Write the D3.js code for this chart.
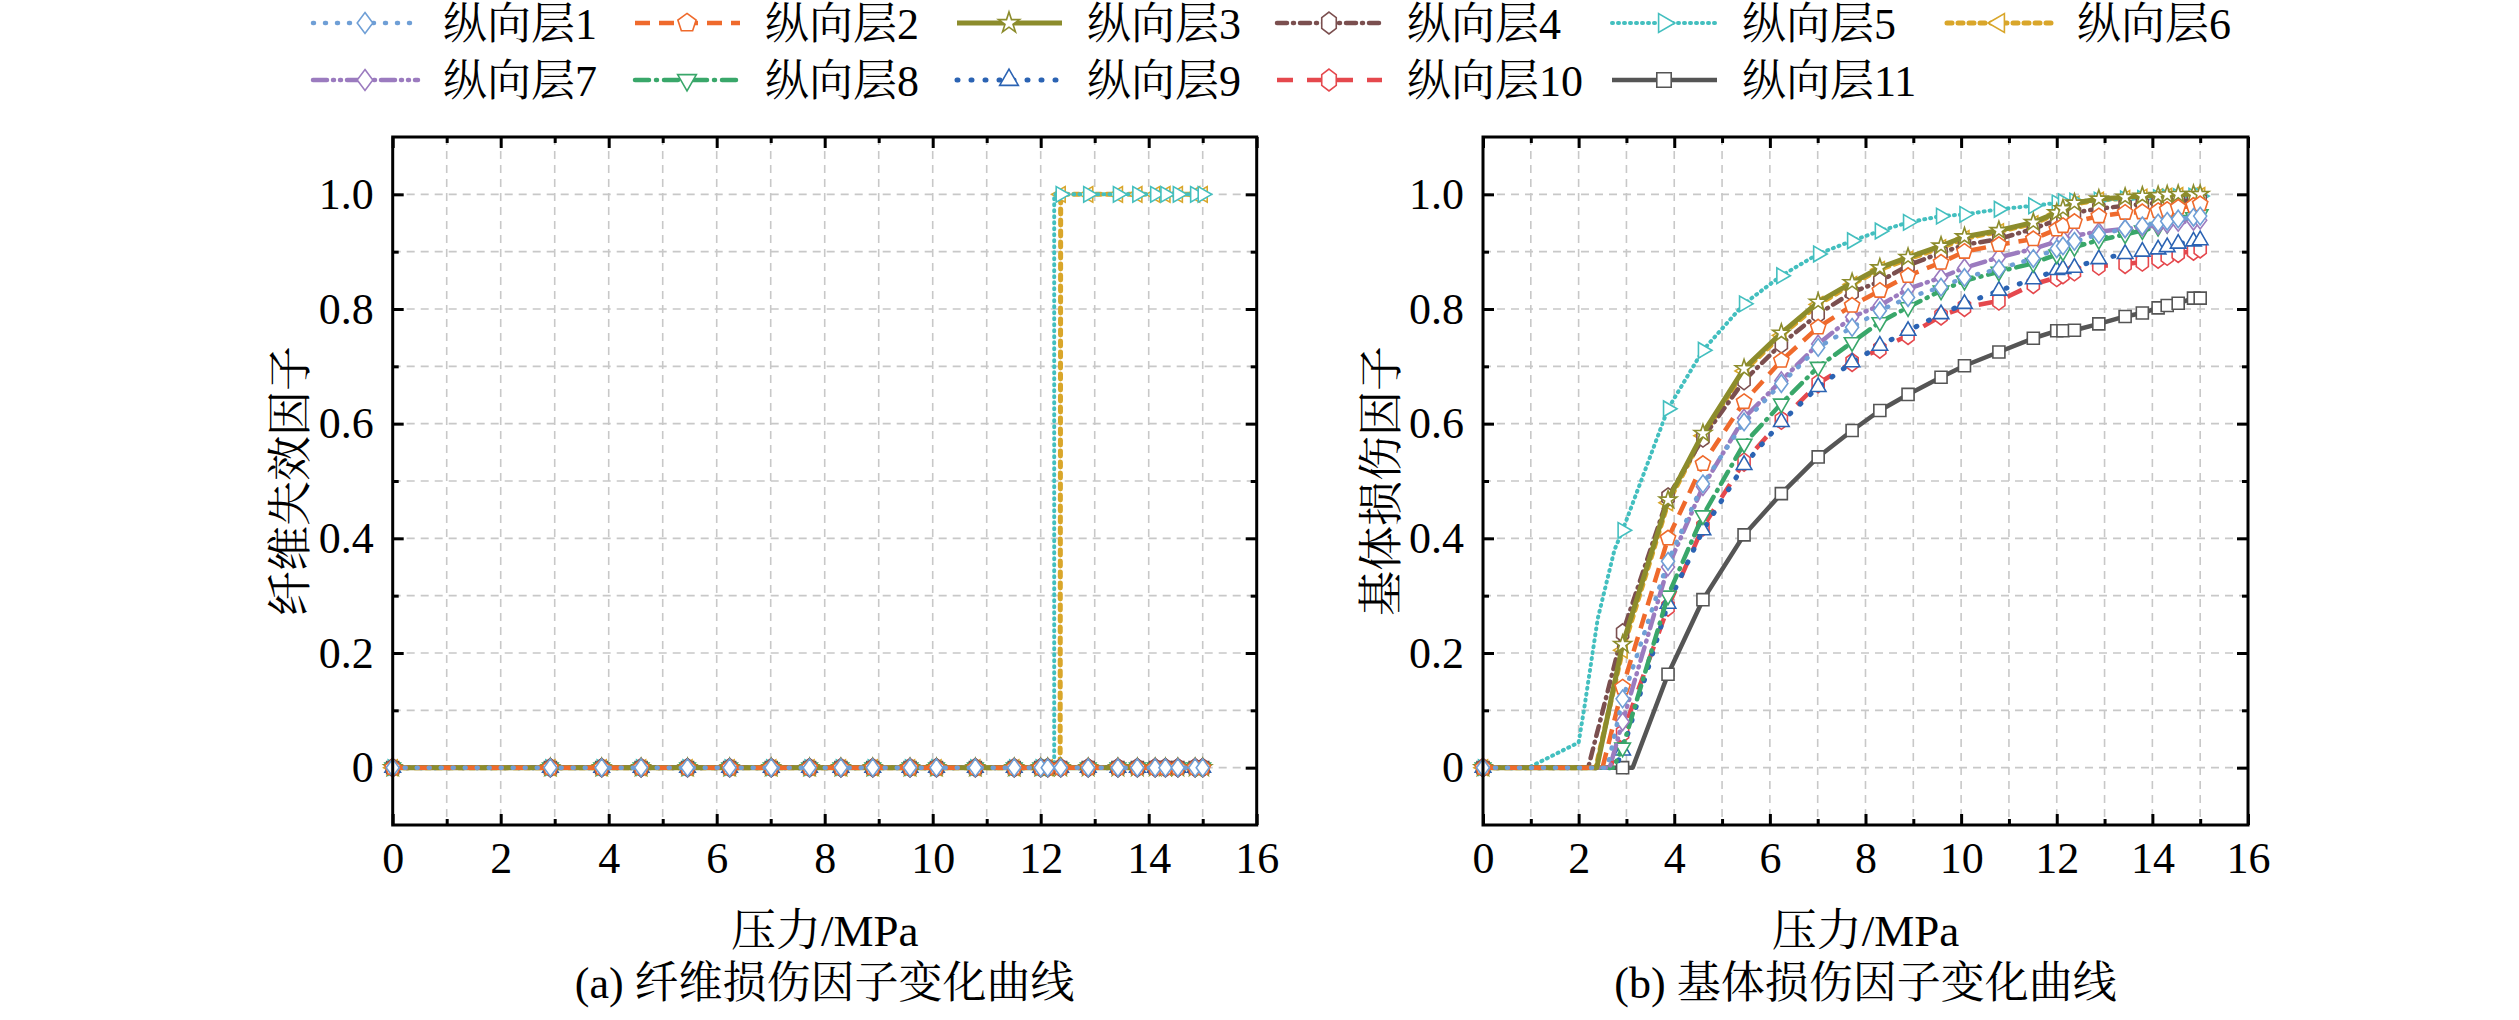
<!DOCTYPE html>
<html lang="zh">
<head>
<meta charset="UTF-8">
<title>损伤因子变化曲线</title>
<script src="https://cdn.jsdelivr.net/npm/d3@7"></script>
<style>
  body { margin: 0; background: #fff; }
  svg text { font-family: "Liberation Serif", "Times New Roman", "Noto Serif CJK SC", "Noto Sans CJK SC", serif; fill: #000; }
  .grid line { stroke: #c8c8c8; stroke-width: 1.6; stroke-dasharray: 8,6; }
</style>
</head>
<body>
<svg id="chart" width="2519" height="1020"></svg>
<script>
// load steps (MPa) where the solver saved output, markers sit on these
var steps = [0, 2.92, 3.87, 4.6, 5.46, 6.24, 7.01, 7.72, 8.3, 8.89, 9.58, 10.07, 10.79,
             11.51, 12.0, 12.13, 12.37, 12.88, 13.43, 13.79, 14.12, 14.31, 14.54, 14.86, 15.0];

var layerNames = ["纵向层1", "纵向层2", "纵向层3", "纵向层4", "纵向层5", "纵向层6",
                  "纵向层7", "纵向层8", "纵向层9", "纵向层10", "纵向层11"];

// (a) fibre failure factor
var fiberZero = [0, 0, 0, 0, 0, 0, 0, 0, 0, 0, 0, 0, 0, 0, 0, 0, 0, 0, 0, 0, 0, 0, 0, 0, 0];
var fiber5 = [0, 0, 0, 0, 0, 0, 0, 0, 0, 0, 0, 0, 0, 0, 0, 0, 1, 1, 1, 1, 1, 1, 1, 1, 1];
var fiber6 = [0, 0, 0, 0, 0, 0, 0, 0, 0, 0, 0, 0, 0, 0, 0, 0, 1, 1, 1, 1, 1, 1, 1, 1, 1];
var fiber5Extra = [[12.25, 0], [12.25, 1]];
var fiber6Extra = [[12.36, 0]];

// (b) matrix damage factor
var matrix1  = [0, 0.12, 0.36, 0.495, 0.603, 0.67, 0.733, 0.768, 0.797, 0.82, 0.838, 0.855, 0.87, 0.888, 0.905, 0.91, 0.918, 0.93, 0.94, 0.945, 0.95, 0.953, 0.957, 0.96, 0.962];
var matrix2  = [0, 0.14, 0.40, 0.53, 0.638, 0.71, 0.768, 0.806, 0.832, 0.858, 0.881, 0.9, 0.912, 0.922, 0.939, 0.945, 0.952, 0.962, 0.968, 0.969, 0.971, 0.973, 0.977, 0.98, 0.983];
var matrix3  = [0, 0.215, 0.467, 0.583, 0.696, 0.758, 0.812, 0.846, 0.872, 0.89, 0.91, 0.926, 0.937, 0.951, 0.968, 0.975, 0.985, 0.992, 0.995, 0.997, 0.998, 0.999, 1.0, 1.0, 1.0];
var matrix4  = [0, 0.235, 0.472, 0.575, 0.675, 0.739, 0.791, 0.829, 0.848, 0.876, 0.898, 0.912, 0.922, 0.94, 0.955, 0.96, 0.968, 0.975, 0.98, 0.983, 0.985, 0.987, 0.988, 0.99, 0.99];
var matrix5  = [0, 0.414, 0.626, 0.728, 0.809, 0.858, 0.896, 0.919, 0.936, 0.951, 0.962, 0.965, 0.974, 0.98, 0.985, 0.987, 0.988, 0.99, 0.992, 0.993, 0.994, 0.995, 0.996, 0.997, 0.997];
var matrix6  = [0, 0.205, 0.462, 0.579, 0.692, 0.754, 0.808, 0.843, 0.869, 0.887, 0.907, 0.923, 0.935, 0.949, 0.966, 0.973, 0.983, 0.99, 0.993, 0.995, 0.996, 0.997, 0.998, 0.998, 0.998];
var matrix7  = [0, 0.08, 0.35, 0.49, 0.61, 0.675, 0.739, 0.786, 0.806, 0.835, 0.855, 0.872, 0.89, 0.905, 0.918, 0.922, 0.928, 0.935, 0.94, 0.943, 0.946, 0.948, 0.951, 0.953, 0.955];
var matrix8  = [0, 0.035, 0.30, 0.44, 0.565, 0.635, 0.699, 0.742, 0.777, 0.803, 0.832, 0.849, 0.865, 0.88, 0.895, 0.9, 0.908, 0.92, 0.93, 0.937, 0.943, 0.948, 0.955, 0.96, 0.965];
var matrix9  = [0, 0.03, 0.286, 0.414, 0.528, 0.603, 0.664, 0.707, 0.736, 0.762, 0.791, 0.809, 0.832, 0.852, 0.868, 0.87, 0.872, 0.887, 0.896, 0.9, 0.904, 0.908, 0.914, 0.918, 0.92];
var matrix10 = [0, 0.06, 0.28, 0.42, 0.533, 0.606, 0.67, 0.707, 0.73, 0.754, 0.788, 0.803, 0.814, 0.843, 0.855, 0.86, 0.865, 0.875, 0.878, 0.882, 0.887, 0.892, 0.897, 0.901, 0.905];
var matrix11 = [0, 0, 0.163, 0.293, 0.406, 0.478, 0.542, 0.588, 0.623, 0.651, 0.681, 0.701, 0.725, 0.749, 0.762, 0.762, 0.763, 0.774, 0.787, 0.793, 0.802, 0.806, 0.81, 0.819, 0.819];

// intermediate solver points (line only, no marker): damage onset
var matrixExtra = [
  [[2.6, 0]], [[2.5, 0]], [[2.38, 0]], [[2.2, 0]],
  [[0.95, 0], [2.0, 0.044], [2.12, 0.105], [2.4, 0.26], [2.75, 0.38]],
  [[2.36, 0]], [[2.65, 0]], [[2.73, 0]], [[2.77, 0]], [[2.66, 0]], [[3.13, 0]]
];

var xMajor = [0, 2, 4, 6, 8, 10, 12, 14, 16];
var xMinor = [1, 3, 5, 7, 9, 11, 13, 15];
var yMajor = [0, 0.2, 0.4, 0.6, 0.8, 1.0];
var yMinor = [0.1, 0.3, 0.5, 0.7, 0.9];

var fiberValues = [fiberZero, fiberZero, fiberZero, fiberZero, fiber5, fiber6,
                   fiberZero, fiberZero, fiberZero, fiberZero, fiberZero];
var fiberExtra = [[], [], [], [], fiber5Extra, fiber6Extra, [], [], [], [], []];
var matrixValues = [matrix1, matrix2, matrix3, matrix4, matrix5, matrix6,
                    matrix7, matrix8, matrix9, matrix10, matrix11];

// ---- marker shapes ----
function poly(n, r, rot, sy) {
    var pts = d3.range(n).map(function(i) {
        var a = rot + i * 2 * Math.PI / n;
        return [(r * Math.cos(a)).toFixed(2), (r * Math.sin(a) * (sy || 1)).toFixed(2)];
    });
    return "M" + pts.join("L") + "Z";
}
var PI = Math.PI;
function markerPath(type, s) {
    switch (type) {
        case "diamond":  return poly(4, 6.5 * s, -PI / 2, 1.35);
        case "pentagon": return poly(5, 8 * s, -PI / 2);
        case "star":     return d3.symbol().type(d3.symbolStar).size(95 * s * s)();
        case "hexagon":  return poly(6, 7 * s, -PI / 2, 1.3);
        case "triRight": return poly(3, 9 * s, 0);
        case "triLeft":  return poly(3, 9 * s, PI);
        case "triDown":  return poly(3, 9 * s, PI / 2);
        case "triUp":    return poly(3, 9 * s, -PI / 2);
        case "square":   return poly(4, 8.5 * s, PI / 4);
    }
}

var styles = [
    { color: "#6f9fd6", dash: "1,11",            width: 4.5, cap: "round", marker: "diamond" },
    { color: "#ef6a2c", dash: "15,9",            width: 4.5, cap: "butt",  marker: "pentagon" },
    { color: "#8c8c2c", dash: null,              width: 5,   cap: "butt",  marker: "star" },
    { color: "#7b4f4f", dash: "10,6,1,6",        width: 4.5, cap: "round", marker: "hexagon" },
    { color: "#43bfbf", dash: "1,5",             width: 4,   cap: "round", marker: "triRight" },
    { color: "#d9a62a", dash: "5,6",             width: 5,   cap: "round", marker: "triLeft" },
    { color: "#9b7bbf", dash: "14,6,1,6,1,6",    width: 4.5, cap: "round", marker: "diamond" },
    { color: "#39a76a", dash: "14,7,1,7",        width: 4.5, cap: "round", marker: "triDown" },
    { color: "#2b63b3", dash: "1,13",            width: 5,   cap: "round", marker: "triUp" },
    { color: "#e5484d", dash: "16,14",           width: 4.5, cap: "butt",  marker: "hexagon" },
    { color: "#555555", dash: null,              width: 4.5, cap: "butt",  marker: "square" }
];

var svg = d3.select("#chart");
svg.append("rect").attr("width", 2519).attr("height", 1020).attr("fill", "#fff");

var top_ = 137, bottom_ = 825;

function drawPanel(left, right, values, extras, yTitle, titleX, caption) {
    var x = d3.scaleLinear().domain([0, 16]).range([left, right]);
    var y = d3.scaleLinear().domain([-0.1, 1.1]).range([bottom_, top_]);
    var g = svg.append("g");

    // grid
    var grid = g.append("g").attr("class", "grid");
    grid.selectAll(".gx").data(xMajor.concat(xMinor).filter(function(d) { return d > 0 && d < 16; }))
        .enter().append("line")
        .attr("x1", function(d) { return x(d); }).attr("x2", function(d) { return x(d); })
        .attr("y1", top_).attr("y2", bottom_);
    grid.selectAll(".gy").data(yMajor.concat(yMinor))
        .enter().append("line")
        .attr("y1", function(d) { return y(d); }).attr("y2", function(d) { return y(d); })
        .attr("x1", left).attr("x2", right);

    // axes with inward ticks
    function styleAxis(sel) {
        sel.select(".domain").remove();
        sel.selectAll(".tick line").attr("stroke", "#000").attr("stroke-width", 3);
        sel.selectAll("text").attr("font-size", 44)
            .attr("font-family", "'Liberation Serif', 'Times New Roman', serif");
    }
    var fmtY = function(d) { return d === 0 ? "0" : d3.format(".1f")(d); };

    g.append("g").attr("transform", "translate(0," + bottom_ + ")")
        .call(d3.axisBottom(x).tickValues(xMajor).tickSize(-11).tickPadding(17)).call(styleAxis);
    g.append("g").attr("transform", "translate(0," + bottom_ + ")")
        .call(d3.axisBottom(x).tickValues(xMinor).tickSize(-6).tickFormat("")).call(styleAxis);
    g.append("g").attr("transform", "translate(0," + top_ + ")")
        .call(d3.axisTop(x).tickValues(xMajor).tickSize(-11).tickFormat("")).call(styleAxis);
    g.append("g").attr("transform", "translate(0," + top_ + ")")
        .call(d3.axisTop(x).tickValues(xMinor).tickSize(-6).tickFormat("")).call(styleAxis);
    g.append("g").attr("transform", "translate(" + left + ",0)")
        .call(d3.axisLeft(y).tickValues(yMajor).tickSize(-11).tickPadding(19).tickFormat(fmtY)).call(styleAxis);
    g.append("g").attr("transform", "translate(" + left + ",0)")
        .call(d3.axisLeft(y).tickValues(yMinor).tickSize(-6).tickFormat("")).call(styleAxis);
    g.append("g").attr("transform", "translate(" + right + ",0)")
        .call(d3.axisRight(y).tickValues(yMajor).tickSize(-11).tickFormat("")).call(styleAxis);
    g.append("g").attr("transform", "translate(" + right + ",0)")
        .call(d3.axisRight(y).tickValues(yMinor).tickSize(-6).tickFormat("")).call(styleAxis);

    // series, last layer drawn first so layer 1 ends on top
    var line = d3.line().x(function(d) { return x(d[0]); }).y(function(d) { return y(d[1]); });
    d3.range(10, -1, -1).forEach(function(i) {
        var st = styles[i];
        var pts = steps.map(function(s, k) { return [s, values[i][k]]; });
        var all = pts.concat(extras[i]).sort(function(a, b) { return a[0] - b[0]; });
        g.append("path").datum(all)
            .attr("d", line)
            .attr("fill", "none")
            .attr("stroke", st.color)
            .attr("stroke-width", st.width)
            .attr("stroke-dasharray", st.dash)
            .attr("stroke-linecap", st.cap)
            .attr("stroke-linejoin", "round");
        g.append("g").selectAll("path").data(pts).enter().append("path")
            .attr("d", markerPath(st.marker, 1))
            .attr("transform", function(d) { return "translate(" + x(d[0]) + "," + y(d[1]) + ")"; })
            .attr("fill", "#fff")
            .attr("stroke", st.color)
            .attr("stroke-width", 1.6);
    });

    // frame
    g.append("rect").attr("x", left).attr("y", top_)
        .attr("width", right - left).attr("height", bottom_ - top_)
        .attr("fill", "none").attr("stroke", "#000").attr("stroke-width", 3);

    // titles
    g.append("text").attr("x", (left + right) / 2).attr("y", 946)
        .attr("text-anchor", "middle").attr("font-size", 45).text("压力/MPa");
    g.append("text").attr("x", (left + right) / 2).attr("y", 998)
        .attr("text-anchor", "middle").attr("font-size", 44).text(caption);
    g.append("text")
        .attr("transform", "translate(" + titleX + "," + ((top_ + bottom_) / 2) + ") rotate(-90)")
        .attr("text-anchor", "middle").attr("dy", "0.35em")
        .attr("font-size", 45).text(yTitle);
}

drawPanel(392.7, 1256.7, fiberValues, fiberExtra, "纤维失效因子", 290, "(a) 纤维损伤因子变化曲线");
drawPanel(1483, 2248, matrixValues, matrixExtra, "基体损伤因子", 1381, "(b) 基体损伤因子变化曲线");

// legend
var legendX = [313, 635, 957, 1277, 1612, 1947];
var legendY = [23, 80];
var legend = svg.append("g");
layerNames.forEach(function(name, i) {
    var row = i < 6 ? 0 : 1;
    var col = i < 6 ? i : i - 6;
    var st = styles[i];
    var lx = legendX[col], ly = legendY[row];
    var item = legend.append("g");
    item.append("line")
        .attr("x1", lx).attr("x2", lx + 105).attr("y1", ly).attr("y2", ly)
        .attr("stroke", st.color).attr("stroke-width", st.width)
        .attr("stroke-dasharray", st.dash).attr("stroke-linecap", st.cap);
    item.append("path")
        .attr("d", markerPath(st.marker, 1.2))
        .attr("transform", "translate(" + (lx + 52) + "," + ly + ")")
        .attr("fill", "#fff").attr("stroke", st.color).attr("stroke-width", 1.6);
    item.append("text")
        .attr("x", lx + 130).attr("y", ly).attr("dy", "0.36em")
        .attr("font-size", 44).text(name);
});
</script>
</body>
</html>
